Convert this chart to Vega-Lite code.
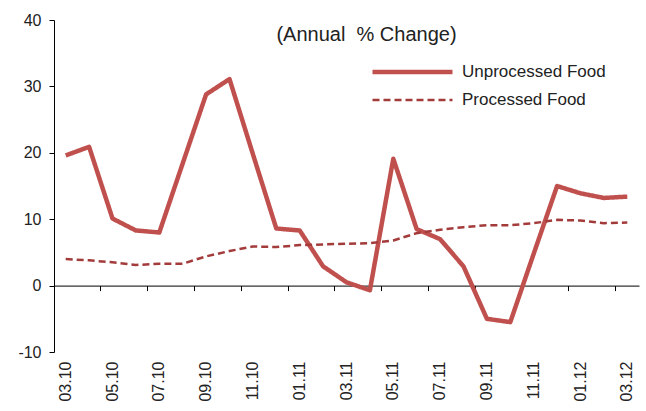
{
  "$schema": "https://vega.github.io/schema/vega-lite/v6.json",
  "width": 585,
  "height": 332,
  "autosize": {"type": "none"},
  "padding": {"left": 54, "top": 20, "right": 7, "bottom": 59},
  "background": "white",
  "config": {
    "view": {"stroke": null},
    "font": "Liberation Sans",
    "axis": {"labelFont": "Liberation Sans", "labelColor": "#222", "domainColor": "#000", "tickColor": "#000", "grid": false}
  },
  "title": {
    "text": "(Annual\u00a0 % Change)",
    "anchor": "middle",
    "frame": "group",
    "dx": 20,
    "offset": -33,
    "fontSize": 20,
    "fontWeight": "normal",
    "color": "#222",
    "font": "Liberation Sans"
  },
  "data": {
    "values": [
      {"month": "03.10", "series": "Unprocessed Food", "value": 19.6},
      {"month": "04.10", "series": "Unprocessed Food", "value": 20.9},
      {"month": "05.10", "series": "Unprocessed Food", "value": 10.1},
      {"month": "06.10", "series": "Unprocessed Food", "value": 8.3},
      {"month": "07.10", "series": "Unprocessed Food", "value": 8.0},
      {"month": "08.10", "series": "Unprocessed Food", "value": 18.4},
      {"month": "09.10", "series": "Unprocessed Food", "value": 28.8},
      {"month": "10.10", "series": "Unprocessed Food", "value": 31.1},
      {"month": "11.10", "series": "Unprocessed Food", "value": 19.8},
      {"month": "12.10", "series": "Unprocessed Food", "value": 8.6},
      {"month": "01.11", "series": "Unprocessed Food", "value": 8.3},
      {"month": "02.11", "series": "Unprocessed Food", "value": 2.9},
      {"month": "03.11", "series": "Unprocessed Food", "value": 0.5},
      {"month": "04.11", "series": "Unprocessed Food", "value": -0.7},
      {"month": "05.11", "series": "Unprocessed Food", "value": 19.1},
      {"month": "06.11", "series": "Unprocessed Food", "value": 8.5},
      {"month": "07.11", "series": "Unprocessed Food", "value": 7.0},
      {"month": "08.11", "series": "Unprocessed Food", "value": 2.9},
      {"month": "09.11", "series": "Unprocessed Food", "value": -5.0},
      {"month": "10.11", "series": "Unprocessed Food", "value": -5.5},
      {"month": "11.11", "series": "Unprocessed Food", "value": 4.8},
      {"month": "12.11", "series": "Unprocessed Food", "value": 15.0},
      {"month": "01.12", "series": "Unprocessed Food", "value": 13.9},
      {"month": "02.12", "series": "Unprocessed Food", "value": 13.2},
      {"month": "03.12", "series": "Unprocessed Food", "value": 13.4},
      {"month": "03.10", "series": "Processed Food", "value": 4.0},
      {"month": "04.10", "series": "Processed Food", "value": 3.8},
      {"month": "05.10", "series": "Processed Food", "value": 3.5},
      {"month": "06.10", "series": "Processed Food", "value": 3.1},
      {"month": "07.10", "series": "Processed Food", "value": 3.3},
      {"month": "08.10", "series": "Processed Food", "value": 3.3},
      {"month": "09.10", "series": "Processed Food", "value": 4.4},
      {"month": "10.10", "series": "Processed Food", "value": 5.2},
      {"month": "11.10", "series": "Processed Food", "value": 5.9},
      {"month": "12.10", "series": "Processed Food", "value": 5.8},
      {"month": "01.11", "series": "Processed Food", "value": 6.1},
      {"month": "02.11", "series": "Processed Food", "value": 6.2},
      {"month": "03.11", "series": "Processed Food", "value": 6.3},
      {"month": "04.11", "series": "Processed Food", "value": 6.4},
      {"month": "05.11", "series": "Processed Food", "value": 6.8},
      {"month": "06.11", "series": "Processed Food", "value": 7.9},
      {"month": "07.11", "series": "Processed Food", "value": 8.4},
      {"month": "08.11", "series": "Processed Food", "value": 8.8},
      {"month": "09.11", "series": "Processed Food", "value": 9.1},
      {"month": "10.11", "series": "Processed Food", "value": 9.1},
      {"month": "11.11", "series": "Processed Food", "value": 9.4},
      {"month": "12.11", "series": "Processed Food", "value": 9.9},
      {"month": "01.12", "series": "Processed Food", "value": 9.8},
      {"month": "02.12", "series": "Processed Food", "value": 9.4},
      {"month": "03.12", "series": "Processed Food", "value": 9.5}
    ]
  },
  "encoding": {
    "y": {
      "field": "value",
      "type": "quantitative",
      "scale": {"domain": [-10, 40], "nice": false, "zero": false},
      "axis": {
        "title": null,
        "values": [-10, 0, 10, 20, 30, 40],
        "labelExpr": "replace(datum.label, '\u2212', '-')",
        "tickSize": 5,
        "labelPadding": 8,
        "labelFontSize": 16,
        "domainWidth": 1,
        "tickWidth": 1
      }
    },
    "color": {
      "field": "series",
      "type": "nominal",
      "scale": {"domain": ["Unprocessed Food", "Processed Food"], "range": ["#C0504D", "#A33B3B"]},
      "legend": {
        "title": null,
        "orient": "none",
        "legendX": 316,
        "legendY": 44,
        "padding": 0,
        "symbolType": "stroke",
        "symbolSize": 6400,
        "clipHeight": 16,
        "labelFontSize": 17,
        "labelOffset": 7,
        "labelColor": "#222",
        "labelFont": "Liberation Sans",
        "rowPadding": 11
      }
    },
    "strokeDash": {
      "field": "series",
      "type": "nominal",
      "scale": {"domain": ["Unprocessed Food", "Processed Food"], "range": [[1, 0], [7, 4]]},
      "legend": {"title": null}
    },
    "strokeWidth": {
      "field": "series",
      "type": "nominal",
      "scale": {"domain": ["Unprocessed Food", "Processed Food"], "range": [4.5, 2.5]},
      "legend": {"title": null}
    }
  },
  "layer": [
    {
      "transform": [{"filter": "datum.series === 'Unprocessed Food'"}],
      "mark": {"type": "line", "strokeJoin": "round"},
      "encoding": {
        "x": {
          "field": "month",
          "type": "ordinal",
          "sort": null,
          "bandPosition": 0.5,
          "scale": {"type": "band", "paddingInner": 0, "paddingOuter": 0},
          "axis": {
            "title": null,
            "orient": "bottom",
            "values": ["03.10", "05.10", "07.10", "09.10", "11.10", "01.11", "03.11", "05.11", "07.11", "09.11", "11.11", "01.12", "03.12"],
            "bandPosition": 0.5,
            "domain": false,
            "ticks": false,
            "labelAngle": 270,
            "labelPadding": 9,
            "labelFontSize": 16
          }
        }
      }
    },
    {
      "transform": [{"filter": "datum.series === 'Processed Food'"}],
      "mark": {"type": "line", "strokeJoin": "round"},
      "encoding": {
        "x": {
          "field": "month",
          "type": "ordinal",
          "sort": null,
          "bandPosition": 0.5,
          "scale": {"type": "band", "paddingInner": 0, "paddingOuter": 0},
          "axis": {
            "title": null,
            "orient": "bottom",
            "values": ["03.10", "05.10", "07.10", "09.10", "11.10", "01.11", "03.11", "05.11", "07.11", "09.11", "11.11", "01.12", "03.12"],
            "bandPosition": 0,
            "labels": false,
            "domain": true,
            "ticks": true,
            "tickSize": 5,
            "offset": -66.4,
            "domainWidth": 1,
            "tickWidth": 1
          }
        }
      }
    }
  ],
  "resolve": {"axis": {"x": "independent"}}
}
